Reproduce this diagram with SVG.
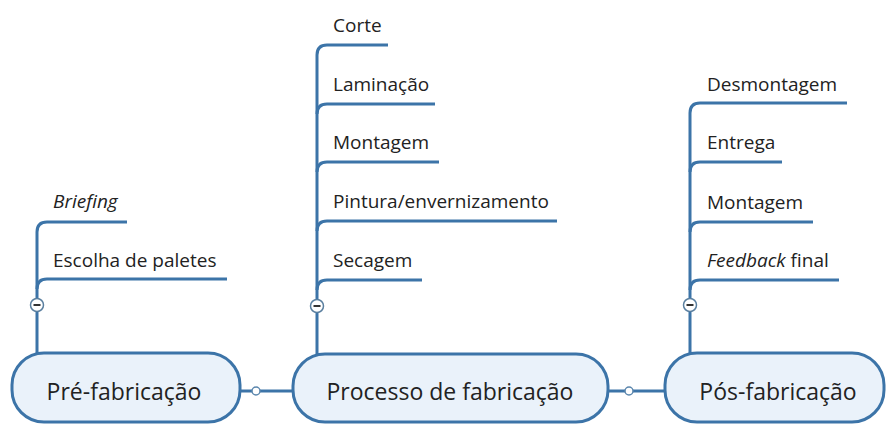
<svg xmlns="http://www.w3.org/2000/svg" width="887" height="426" viewBox="0 0 887 426">
<style>
.br{fill:none;stroke:#3c74a8;stroke-width:3;stroke-linecap:butt}
.node{fill:#eaf2fa;stroke:#3c74a8;stroke-width:3}
.lbl{font-family:"Segoe UI","Open Sans","Noto Sans",sans-serif;font-size:19px;fill:#222}
.ntx{font-family:"Segoe UI","Open Sans","Noto Sans",sans-serif;font-size:23px;fill:#222;text-anchor:middle}
.col{fill:#fff;stroke:#5a7f9f;stroke-width:1.5}
.minus{stroke:#333;stroke-width:2}
.dot{fill:#fff;stroke:#5a86ad;stroke-width:1.5}
</style>
<rect width="887" height="426" fill="#fff"/>
<g id="connectors">
<line class="br" x1="240" y1="391" x2="293" y2="391"/>
<line class="br" x1="608" y1="391" x2="665" y2="391"/>
<circle class="dot" cx="256" cy="391" r="4"/>
<circle class="dot" cx="629" cy="391" r="4"/>
<path class="br" d="M37,353 V232 Q37,222 47,222 H127"/>
<path class="br" d="M37,289 Q37,279 47,279 H227"/>
<path class="br" d="M317,354 V55 Q317,45 327,45 H388"/>
<path class="br" d="M317,114 Q317,104 327,104 H435"/>
<path class="br" d="M317,172 Q317,162 327,162 H439"/>
<path class="br" d="M317,231 Q317,221 327,221 H557"/>
<path class="br" d="M317,290 Q317,280 327,280 H422"/>
<path class="br" d="M690,353 V113 Q690,103 700,103 H847"/>
<path class="br" d="M690,172 Q690,162 700,162 H782"/>
<path class="br" d="M690,232 Q690,222 700,222 H813"/>
<path class="br" d="M690,290 Q690,280 700,280 H839"/>
</g>
<g id="collapse">
<circle class="col" cx="37" cy="305" r="6.5"/><line class="minus" x1="33.5" y1="305" x2="40.5" y2="305"/>
<circle class="col" cx="317" cy="306" r="6.5"/><line class="minus" x1="313.5" y1="306" x2="320.5" y2="306"/>
<circle class="col" cx="690" cy="305" r="6.5"/><line class="minus" x1="686.5" y1="305" x2="693.5" y2="305"/>
</g>
<g id="pre">
<rect class="node" x="12" y="353" width="228" height="69" rx="32"/>
<text class="ntx" x="124" y="400">Pré-fabricação</text>
</g>
<g id="processo">
<rect class="node" x="293" y="354" width="315" height="68" rx="32"/>
<text class="ntx" x="450" y="400">Processo de fabricação</text>
</g>
<g id="pos">
<rect class="node" x="665" y="353" width="219" height="69" rx="32"/>
<text class="ntx" x="778" y="400">Pós-fabricação</text>
</g>
<g id="briefing"><text class="lbl" x="53" y="208" font-style="italic">Briefing</text></g>
<g id="escolha"><text class="lbl" x="53" y="267">Escolha de paletes</text></g>
<g id="corte"><text class="lbl" x="333" y="32">Corte</text></g>
<g id="laminacao"><text class="lbl" x="333" y="91">Laminação</text></g>
<g id="montagem1"><text class="lbl" x="333" y="149">Montagem</text></g>
<g id="pintura"><text class="lbl" x="333" y="208">Pintura/envernizamento</text></g>
<g id="secagem"><text class="lbl" x="333" y="267">Secagem</text></g>
<g id="desmontagem"><text class="lbl" x="707" y="91">Desmontagem</text></g>
<g id="entrega"><text class="lbl" x="707" y="149">Entrega</text></g>
<g id="montagem2"><text class="lbl" x="707" y="209">Montagem</text></g>
<g id="feedback"><text class="lbl" x="707" y="267"><tspan font-style="italic">Feedback</tspan> final</text></g>
</svg>
